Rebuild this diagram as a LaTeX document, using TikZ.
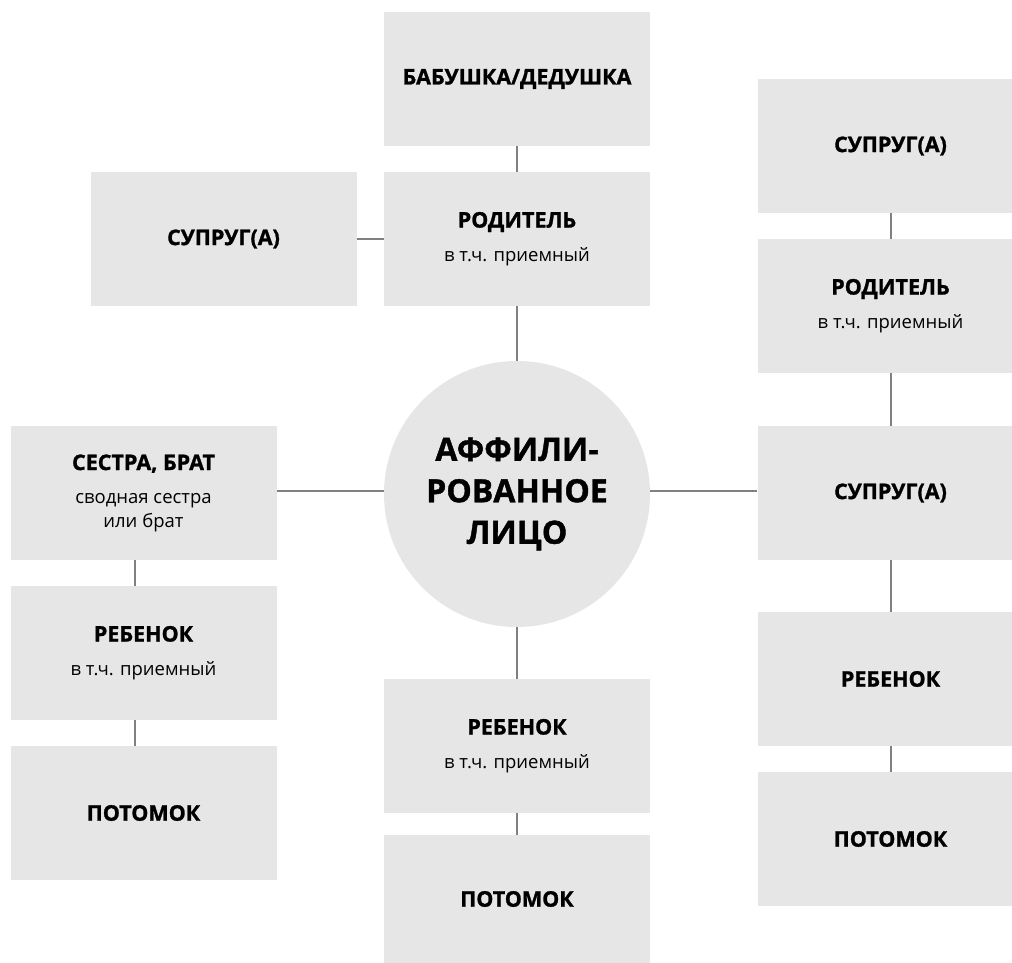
\documentclass[tikz,border=0pt]{standalone}
\usepackage{fontspec}
\setmainfont{Open Sans}[BoldFeatures={FakeBold=1.2}]
\definecolor{boxgray}{HTML}{E6E6E6}
\definecolor{linegray}{HTML}{808080}
\definecolor{txt}{HTML}{000000}
\tikzset{
  rbox/.style={fill=boxgray, draw=none, inner sep=0pt, minimum width=266pt, minimum height=134pt,
    align=center, text=txt, font=\fontsize{18.5}{24}\selectfont},
  rcirc/.style={circle, fill=boxgray, draw=none, inner sep=0pt, minimum size=266pt,
    align=center, text=txt, font=\fontsize{32}{41.5}\selectfont\bfseries},
  link/.style={draw=linegray, line width=2pt}
}
\newcommand{\ttl}[1]{{\fontsize{21.5}{24}\selectfont\bfseries #1}}
\begin{document}
\begin{tikzpicture}[x=1pt,y=-1pt]
\useasboundingbox (0,0) rectangle (1012,963);
\clip (0,0) rectangle (1012,963);
\fill[white] (0,0) rectangle (1012,963);
% centre column
\node[rbox] (bab) at (517,79) {\ttl{БАБУШКА/ДЕДУШКА}};
\node[rbox] (par) at (517,239) {\ttl{РОДИТЕЛЬ}\\[10pt]в т.ч. приемный};
\node[rbox] (spL) at (223.5,239) {\ttl{СУПРУГ(А)}};
\node[rcirc] (me) at (517,494) {АФФИЛИ-\\РОВАННОЕ\\ЛИЦО};
\node[rbox] (chC) at (517,746) {\ttl{РЕБЕНОК}\\[10pt]в т.ч. приемный};
\node[rbox, minimum height=128pt] (desC) at (517,899) {\ttl{ПОТОМОК}};
% left column
\node[rbox] (sib) at (143.5,493) {\ttl{СЕСТРА, БРАТ}\\[9pt]сводная сестра\\или брат};
\node[rbox] (chL) at (143.5,653) {\ttl{РЕБЕНОК}\\[10pt]в т.ч. приемный};
\node[rbox] (desL) at (143.5,813) {\ttl{ПОТОМОК}};
% right column
\node[rbox] (spR1) at (890.5,146) {\ttl{СУПРУГ(А)}};
\node[rbox] (parR) at (890.5,306) {\ttl{РОДИТЕЛЬ}\\[10pt]в т.ч. приемный};
\node[rbox] (spR2) at (890.5,493) {\ttl{СУПРУГ(А)}};
\node[rbox] (chR) at (890.5,679) {\ttl{РЕБЕНОК}};
\node[rbox] (desR) at (890.5,839) {\ttl{ПОТОМОК}};
% connectors
\draw[link] (bab.south) -- (par.north);
\draw[link] (par.south) -- (me.north);
\draw[link] (spL.east) -- (par.west);
\draw[link] (me.south) -- (chC.north);
\draw[link] (chC.south) -- (desC.north);
\draw[link] ([yshift=3pt]me.west) -- ([yshift=3pt]me.west -| sib.east);
\draw[link] ([yshift=3pt]me.east) -- ([yshift=3pt]me.east -| spR2.west);
\draw[link] ([xshift=-9pt]sib.south) -- ([xshift=-9pt]chL.north);
\draw[link] ([xshift=-9pt]chL.south) -- ([xshift=-9pt]desL.north);
\draw[link] (spR1.south) -- (parR.north);
\draw[link] (parR.south) -- (spR2.north);
\draw[link] (spR2.south) -- (chR.north);
\draw[link] (chR.south) -- (desR.north);
\end{tikzpicture}
\end{document}
